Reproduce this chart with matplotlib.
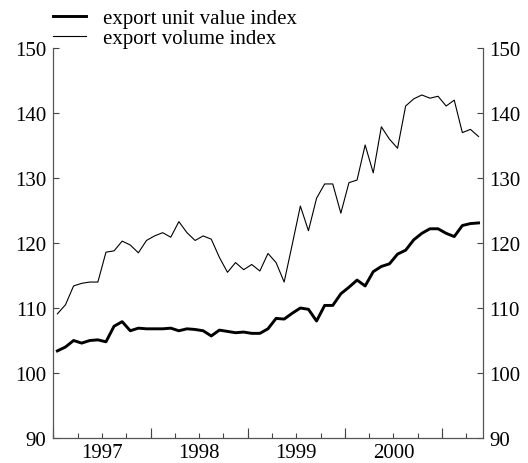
import matplotlib.pyplot as plt
import numpy as np

# monthly data, Jan 1997 - May 2001
unit_value = [103.4, 104.0, 105.0, 104.6, 105.0, 105.1, 104.8, 107.2, 107.9, 106.5,
              106.9, 106.8, 106.8, 106.8, 106.9, 106.5, 106.8, 106.7, 106.5, 105.7,
              106.6, 106.4, 106.2, 106.3, 106.1, 106.1, 106.8, 108.4, 108.3, 109.2,
              110.0, 109.8, 108.0, 110.4, 110.4, 112.2, 113.2, 114.3, 113.4, 115.6,
              116.4, 116.8, 118.3, 118.9, 120.5, 121.5, 122.2, 122.2, 121.5, 121.0,
              122.7, 123.0, 123.1]
volume = [109.1, 110.5, 113.4, 113.8, 114.0, 114.0, 118.6, 118.8, 120.3, 119.7,
          118.5, 120.4, 121.1, 121.6, 120.9, 123.3, 121.6, 120.4, 121.1, 120.6,
          117.8, 115.5, 117.0, 115.9, 116.7, 115.7, 118.4, 117.0, 114.0, 119.8,
          125.7, 121.9, 126.9, 129.1, 129.1, 124.6, 129.3, 129.7, 135.1, 130.8,
          137.9, 136.0, 134.6, 141.1, 142.2, 142.8, 142.3, 142.6, 141.1, 142.0,
          137.0, 137.5, 136.4]
years = [1997, 1998, 1999, 2000]
start_year = 1997

plt.rcParams['font.family'] = ['Liberation Serif', 'DejaVu Serif']
fs = 15

n = len(unit_value)
t = start_year + (np.arange(n) + 0.5) / 12

fig = plt.figure(figsize=(5.28, 4.64), dpi=100)
ax = fig.add_axes([0.101, 0.054, 0.813, 0.840])

ax.plot(t, unit_value, color='black', lw=2.1, label='export unit value index')
ax.plot(t, volume, color='black', lw=0.8, label='export volume index')

ax.set_xlim(start_year, start_year + n / 12)
ax.set_ylim(90, 150)
ax.set_yticks(range(90, 151, 10))

# year labels in the middle of each year, quarter ticks, tall ticks at year ends
ax.xaxis.remove_overlapping_locs = False
ax.set_xticks([y + 0.5 for y in years])
ax.set_xticklabels([str(y) for y in years])
ax.set_xticks(np.arange(start_year, start_year + n / 12, 0.25), minor=True)
ax.tick_params(axis='x', which='major', length=0, pad=4, labelsize=fs)
ax.tick_params(axis='x', which='minor', direction='in', length=3.5, width=0.8, color='#444444')
sec = ax.secondary_xaxis('bottom')
sec.set_xticks(np.arange(start_year, start_year + n / 12, 1.0))
sec.tick_params(direction='in', length=7, width=0.8, color='#444444', labelbottom=False)
sec.spines['bottom'].set_visible(False)

ax.tick_params(axis='y', direction='in', length=4, width=0.8, color='#444444',
               left=True, right=True, labelleft=True, labelright=True, labelsize=fs, pad=5)

ax.spines['top'].set_visible(False)
for s in ['left', 'right', 'bottom']:
    ax.spines[s].set_color('#555555')
    ax.spines[s].set_linewidth(0.9)

ax.legend(loc='upper left', bbox_to_anchor=(0.1, 0.979), bbox_transform=fig.transFigure,
          frameon=False, fontsize=fs, handlelength=1.6, handletextpad=0.8,
          labelspacing=0.0, borderpad=0, borderaxespad=0)

fig.savefig('out.png', dpi=100)
